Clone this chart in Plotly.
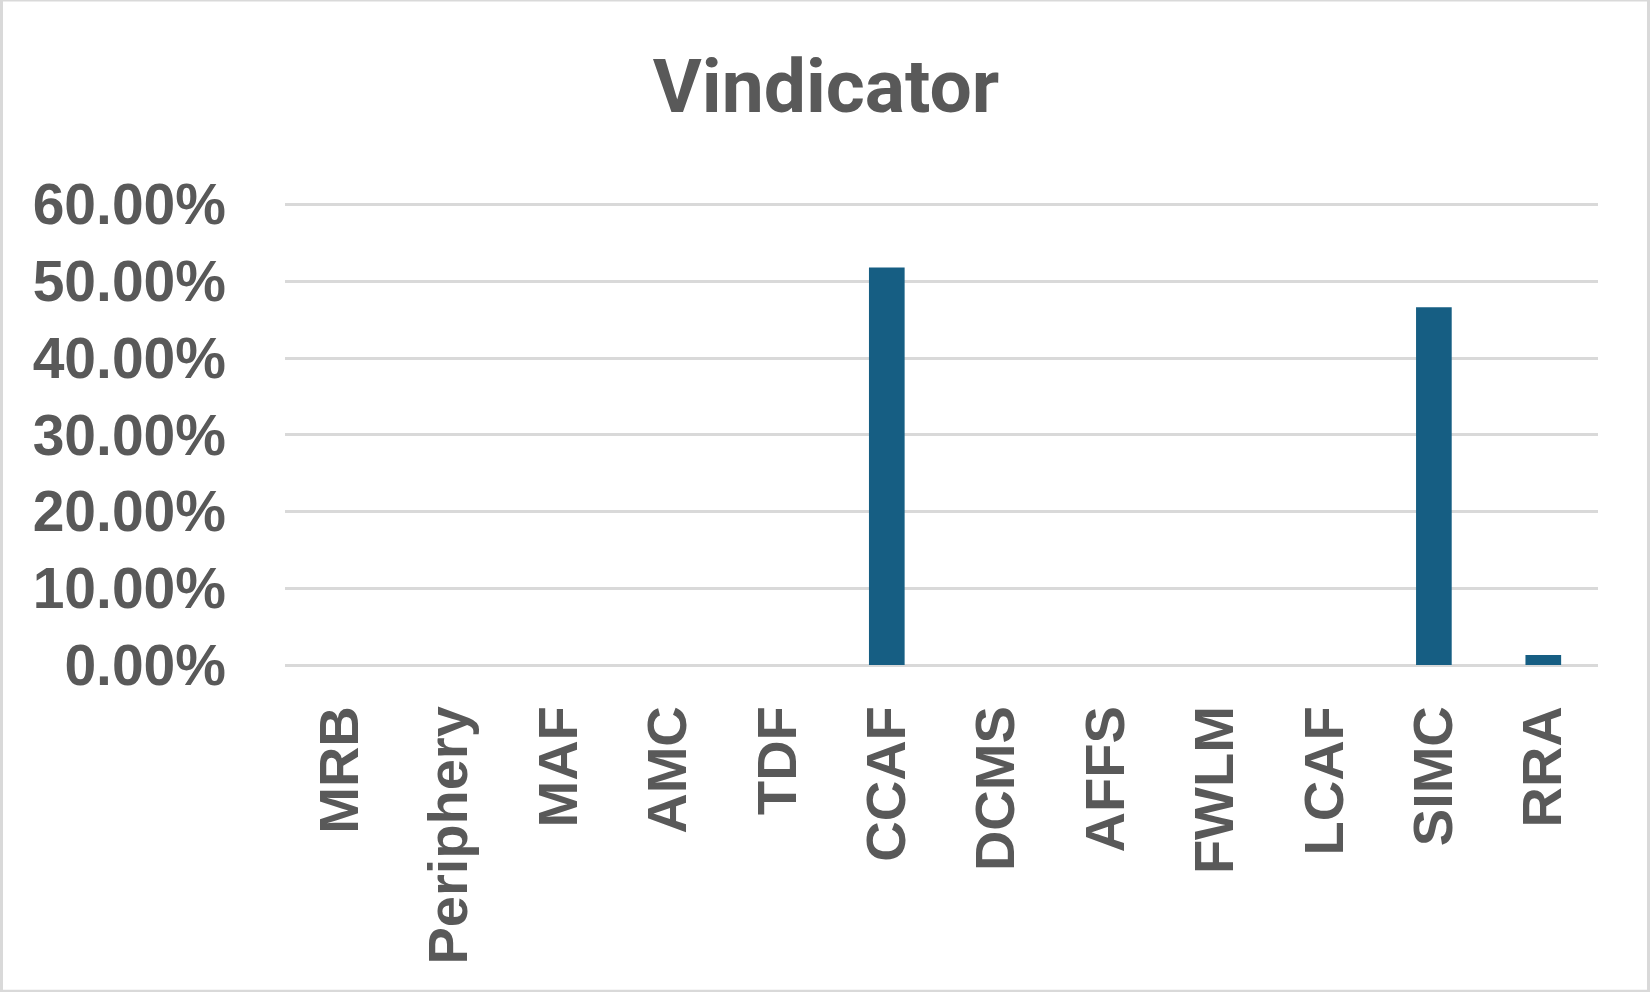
import plotly.graph_objects as go

categories = ["MRB", "Periphery", "MAF", "AMC", "TDF", "CCAF", "DCMS", "AFFS", "FWLM", "LCAF", "SIMC", "RRA"]
values = [0, 0, 0, 0, 0, 0.518, 0, 0, 0, 0, 0.466, 0.013]
y_ticks = [0, 0.1, 0.2, 0.3, 0.4, 0.5, 0.6]

W, H = 1650, 992
L, R, T, B = 285, 52, 204, 327
pw, ph = W - L - R, H - T - B
ytop = 0.6 * ph / (ph - 1.5)

fig = go.Figure(go.Bar(x=categories, y=values, marker=dict(color="#165E83", line=dict(width=0))))

grey = "#595959"
fig.update_layout(
    width=W, height=H,
    margin=dict(l=L, r=R, t=T - 1.5, b=B, pad=0),
    paper_bgcolor="white", plot_bgcolor="white",
    bargap=0.674,
    showlegend=False,
    title=dict(text="Vindicator", x=826 / W, xref="container", xanchor="center",
               y=1 - 86 / H, yref="container", yanchor="middle",
               font=dict(family="Roboto", size=75, color=grey, weight="bold")),
    xaxis=dict(tickangle=-90, tickfont=dict(family="Liberation Sans", size=56, color=grey, weight="bold"),
               showgrid=False, showline=False, ticks="", ticklabelstandoff=29),
    yaxis=dict(range=[0, ytop], tickvals=y_ticks, tickformat=".2%",
               tickfont=dict(family="Liberation Sans", size=57, color=grey, weight="bold"),
               showgrid=True, gridcolor="#D9D9D9", gridwidth=3,
               zeroline=True, zerolinecolor="#D9D9D9", zerolinewidth=3,
               showline=False, ticks="", ticklabelstandoff=58),
    shapes=[dict(type="rect", xref="paper", yref="paper",
                 x0=(1.5 - L) / pw, x1=(W - 1.5 - L) / pw,
                 y0=(T + ph - (H - 1.5)) / ph, y1=(T + ph - 1.5) / ph,
                 line=dict(color="#D9D9D9", width=3), fillcolor="rgba(0,0,0,0)", layer="below")],
    font=dict(family="Liberation Sans", color=grey),
)

fig.write_html("out.html", config={"displayModeBar": False},
               post_script="document.body.style.margin='0';document.body.style.overflow='hidden';")
